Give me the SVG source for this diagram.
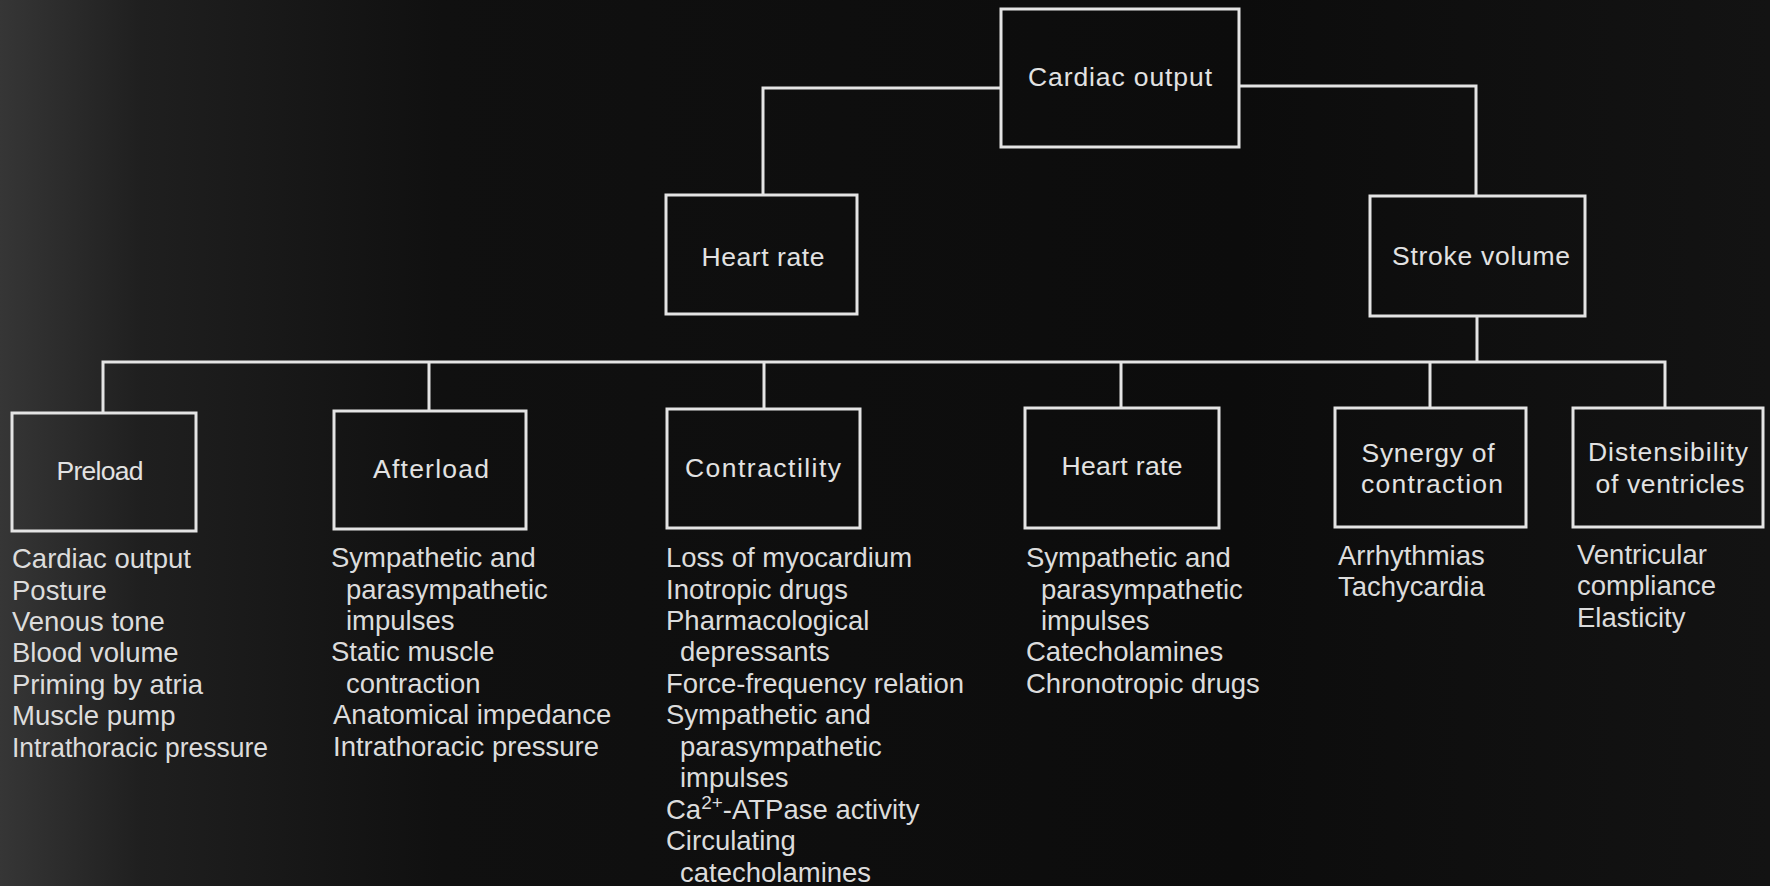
<svg xmlns="http://www.w3.org/2000/svg" width="1770" height="886" viewBox="0 0 1770 886">
<defs>
<linearGradient id="bg" x1="0" y1="0" x2="1" y2="0">
<stop offset="0" stop-color="#363636"/>
<stop offset="0.08" stop-color="#1f1f1f"/>
<stop offset="0.25" stop-color="#101010"/>
<stop offset="0.7" stop-color="#0c0c0c"/>
<stop offset="1" stop-color="#131313"/>
</linearGradient>
<style>
.box{fill:none;stroke:#e4e4e4;stroke-width:3}
.con{fill:none;stroke:#e4e4e4;stroke-width:3}
.lbl{font-family:"Liberation Sans",Arial,sans-serif;font-size:26.5px;fill:#e2e2e2;text-anchor:middle}
.lst{font-family:"Liberation Sans",Arial,sans-serif;font-size:27.5px;fill:#dcdcdc}
</style>
</defs>
<rect x="0" y="0" width="1770" height="886" fill="url(#bg)"/>
<g id="connectors">
<path class="con" d="M1001,88 H763 V195"/>
<path class="con" d="M1239,86 H1476 V196"/>
<path class="con" d="M1477,316 V362"/>
<path class="con" d="M103,413 V362 H1665 V408"/>
<path class="con" d="M429,362 V411"/>
<path class="con" d="M764,362 V409"/>
<path class="con" d="M1121,362 V408"/>
<path class="con" d="M1430,362 V408"/>
</g>
<g id="cardiac-output">
<rect class="box" x="1001" y="9" width="238" height="138"/>
<text class="lbl" x="1120" y="86" textLength="184" lengthAdjust="spacing">Cardiac output</text>
</g>
<g id="heart-rate-top">
<rect class="box" x="666" y="195" width="191" height="119"/>
<text class="lbl" x="763" y="266" textLength="123" lengthAdjust="spacing">Heart rate</text>
</g>
<g id="stroke-volume">
<rect class="box" x="1370" y="196" width="215" height="120"/>
<text class="lbl" x="1481" y="265" textLength="178" lengthAdjust="spacing">Stroke volume</text>
</g>
<g id="preload">
<rect class="box" x="12" y="413" width="184" height="118"/>
<text class="lbl" x="100" y="480" textLength="87" lengthAdjust="spacing">Preload</text>
<text class="lst" x="12" y="568">Cardiac output</text>
<text class="lst" x="12" y="599.5">Posture</text>
<text class="lst" x="12" y="631">Venous tone</text>
<text class="lst" x="12" y="662.4">Blood volume</text>
<text class="lst" x="12" y="693.8">Priming by atria</text>
<text class="lst" x="12" y="725.3">Muscle pump</text>
<text class="lst" x="12" y="756.7" textLength="256" lengthAdjust="spacingAndGlyphs">Intrathoracic pressure</text>
</g>
<g id="afterload">
<rect class="box" x="334" y="411" width="192" height="118"/>
<text class="lbl" x="431" y="478" textLength="116" lengthAdjust="spacing">Afterload</text>
<text class="lst" x="331" y="567">Sympathetic and</text>
<text class="lst" x="346" y="598.5">parasympathetic</text>
<text class="lst" x="346" y="630">impulses</text>
<text class="lst" x="331" y="661.4">Static muscle</text>
<text class="lst" x="346" y="692.8">contraction</text>
<text class="lst" x="333" y="724.3">Anatomical impedance</text>
<text class="lst" x="333" y="755.7" textLength="266" lengthAdjust="spacingAndGlyphs">Intrathoracic pressure</text>
</g>
<g id="contractility">
<rect class="box" x="667" y="409" width="193" height="119"/>
<text class="lbl" x="763" y="477" textLength="156" lengthAdjust="spacing">Contractility</text>
<text class="lst" x="666" y="567">Loss of myocardium</text>
<text class="lst" x="666" y="598.5">Inotropic drugs</text>
<text class="lst" x="666" y="630">Pharmacological</text>
<text class="lst" x="680" y="661.4">depressants</text>
<text class="lst" x="666" y="692.8">Force-frequency relation</text>
<text class="lst" x="666" y="724.3">Sympathetic and</text>
<text class="lst" x="680" y="755.7">parasympathetic</text>
<text class="lst" x="680" y="787.2">impulses</text>
<text class="lst" x="666" y="818.6">Ca<tspan dy="-10" font-size="19">2+</tspan><tspan dy="10">-ATPase activity</tspan></text>
<text class="lst" x="666" y="850">Circulating</text>
<text class="lst" x="680" y="881.5">catecholamines</text>
</g>
<g id="heart-rate-sv">
<rect class="box" x="1025" y="408" width="194" height="120"/>
<text class="lbl" x="1122" y="475" textLength="121" lengthAdjust="spacing">Heart rate</text>
<text class="lst" x="1026" y="567">Sympathetic and</text>
<text class="lst" x="1041" y="598.5">parasympathetic</text>
<text class="lst" x="1041" y="630">impulses</text>
<text class="lst" x="1026" y="661.4">Catecholamines</text>
<text class="lst" x="1026" y="692.8">Chronotropic drugs</text>
</g>
<g id="synergy">
<rect class="box" x="1335" y="408" width="191" height="119"/>
<text class="lbl" x="1428" y="462" textLength="133" lengthAdjust="spacing">Synergy of</text>
<text class="lbl" x="1432" y="493" textLength="142" lengthAdjust="spacing">contraction</text>
<text class="lst" x="1338" y="565">Arrhythmias</text>
<text class="lst" x="1338" y="596.4">Tachycardia</text>
</g>
<g id="distensibility">
<rect class="box" x="1573" y="408" width="190" height="119"/>
<text class="lbl" x="1668" y="461" textLength="160" lengthAdjust="spacing">Distensibility</text>
<text class="lbl" x="1670" y="493" textLength="149" lengthAdjust="spacing">of ventricles</text>
<text class="lst" x="1577" y="564">Ventricular</text>
<text class="lst" x="1577" y="595.4">compliance</text>
<text class="lst" x="1577" y="626.8">Elasticity</text>
</g>
</svg>
